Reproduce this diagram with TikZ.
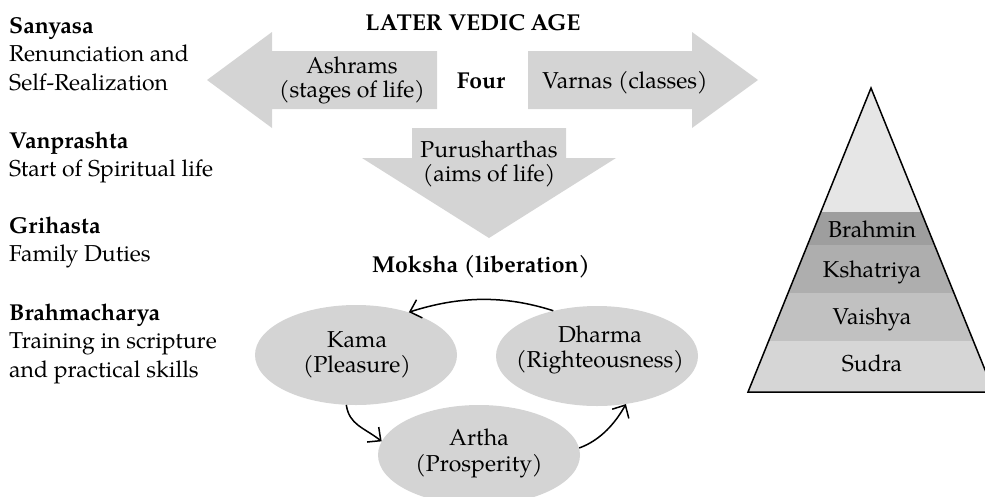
\documentclass[tikz,border=0pt]{standalone}
\usepackage{fontspec}
\setmainfont{TeX Gyre Pagella}
\usetikzlibrary{shapes.geometric,arrows.meta}

% two centred lines whose first baseline is the box baseline
\newcommand\twolines[3]{{\fontsize{23}{#1}\selectfont\begin{tabular}[t]{@{}c@{}}#2\\#3\end{tabular}}}
% a left-aligned stack for the stages of life
\newcommand\stagelines[1]{{\fontsize{23}{28.7}\selectfont\begin{tabular}[t]{@{}l@{}}#1\end{tabular}}}

\definecolor{shapegray}{HTML}{D4D4D4}
\definecolor{tiertop}{HTML}{E6E6E6}
\definecolor{tierone}{HTML}{9E9E9E}
\definecolor{tiertwo}{HTML}{AEAEAE}
\definecolor{tierthree}{HTML}{C1C1C1}
\definecolor{tierfour}{HTML}{D6D6D6}

\begin{document}
\begin{tikzpicture}[x=1pt,y=-1pt,
  lbl/.style={inner sep=0pt, anchor=base, font=\fontsize{23}{24}\selectfont},
  boldlbl/.style={lbl, font=\fontsize{23}{24}\selectfont\bfseries},
  stage/.style={inner sep=0pt, anchor=base west},
  blob/.style={ellipse, fill=shapegray, inner sep=0pt, minimum width=202pt, minimum height=100pt},
  link/.style={line width=1.5pt, -{Straight Barb[length=10pt,width=19pt,line width=1.5pt]}},
  bigarrow/.style={fill=shapegray}]

\useasboundingbox (0,0) rectangle (985,496);
\clip (0,0) rectangle (985,496);

% ---- stages of life (left column)
\node[stage] (sanyasa) at (9,33) {\stagelines{\textbf{Sanyasa}\\Renunciation and\\Self-Realization}};
\node[stage] (vanprashta) at (9,148) {\stagelines{\textbf{Vanprashta}\\Start of Spiritual life}};
\node[stage] (grihasta) at (9,233) {\stagelines{\textbf{Grihasta}\\Family Duties}};
\node[stage] (brahmacharya) at (9,320) {\stagelines{\textbf{Brahmacharya}\\Training in scripture\\and practical skills}};

% ---- block arrows
\fill[bigarrow] (207,80) -- (272,32) -- (272,51) -- (437,51) -- (437,109)
  -- (272,109) -- (272,128) -- cycle;
\fill[bigarrow] (758,80) -- (692,32) -- (692,51) -- (528,51) -- (528,109)
  -- (692,109) -- (692,128) -- cycle;
\fill[bigarrow] (412,128) -- (566,128) -- (566,158) -- (616,158) -- (489,238)
  -- (362,158) -- (412,158) -- cycle;

\node[boldlbl] (title) at (473,30) {LATER VEDIC AGE};
\node[lbl] (ashrams) at (352,73) {\twolines{24}{Ashrams}{(stages of life)}};
\node[boldlbl] (four) at (481,88) {Four};
\node[lbl] (varnas) at (625,88) {Varnas (classes)};
\node[lbl] (purusharthas) at (489,157) {\twolines{23}{Purusharthas}{(aims of life)}};
\node[boldlbl] (moksha) at (481,272) {Moksha (liberation)};

% ---- the aims of life
\node[blob] (kama) at (356,355) {};
\node[blob] (dharma) at (597,356) {};
\node[blob] (artha) at (479,455) {};
\node[lbl] (kamatext) at (357,347) {\twolines{25}{Kama}{(Pleasure)}};
\node[lbl] (dharmatext) at (600,342) {\twolines{25}{Dharma}{(Righteousness)}};
\node[lbl] (arthatext) at (479,445) {\twolines{26}{Artha}{(Prosperity)}};

\draw[link] (dharma.134) .. controls +(-50,-16) and +(50,-16) .. (kama.39);
\draw[link] (kama.259) .. controls +(3,20) and +(-18,-14) .. (artha.172);
\draw[link] (artha.4) .. controls +(22,-8) and +(-10,18) .. (dharma.301);

% ---- the four varnas
\coordinate (apex) at (871,88);
\coordinate (baseleft) at (748,392);
\coordinate (baseright) at (994,392);
\begin{scope}
  \clip (apex) -- (baseleft) -- (baseright) -- cycle;
  \fill[tiertop] (740,80) rectangle (1000,212);
  \fill[tierone] (740,212) rectangle (1000,245);
  \fill[tiertwo] (740,245) rectangle (1000,293);
  \fill[tierthree] (740,293) rectangle (1000,341);
  \fill[tierfour] (740,341) rectangle (1000,392);
\end{scope}
\draw[line width=1.5pt] (apex) -- (baseleft) -- (baseright) -- cycle;

\node[lbl] (brahmin) at (872,237) {Brahmin};
\node[lbl] (kshatriya) at (872,277) {Kshatriya};
\node[lbl] (vaishya) at (872,324) {Vaishya};
\node[lbl] (sudra) at (872,371) {Sudra};
\end{tikzpicture}
\end{document}
